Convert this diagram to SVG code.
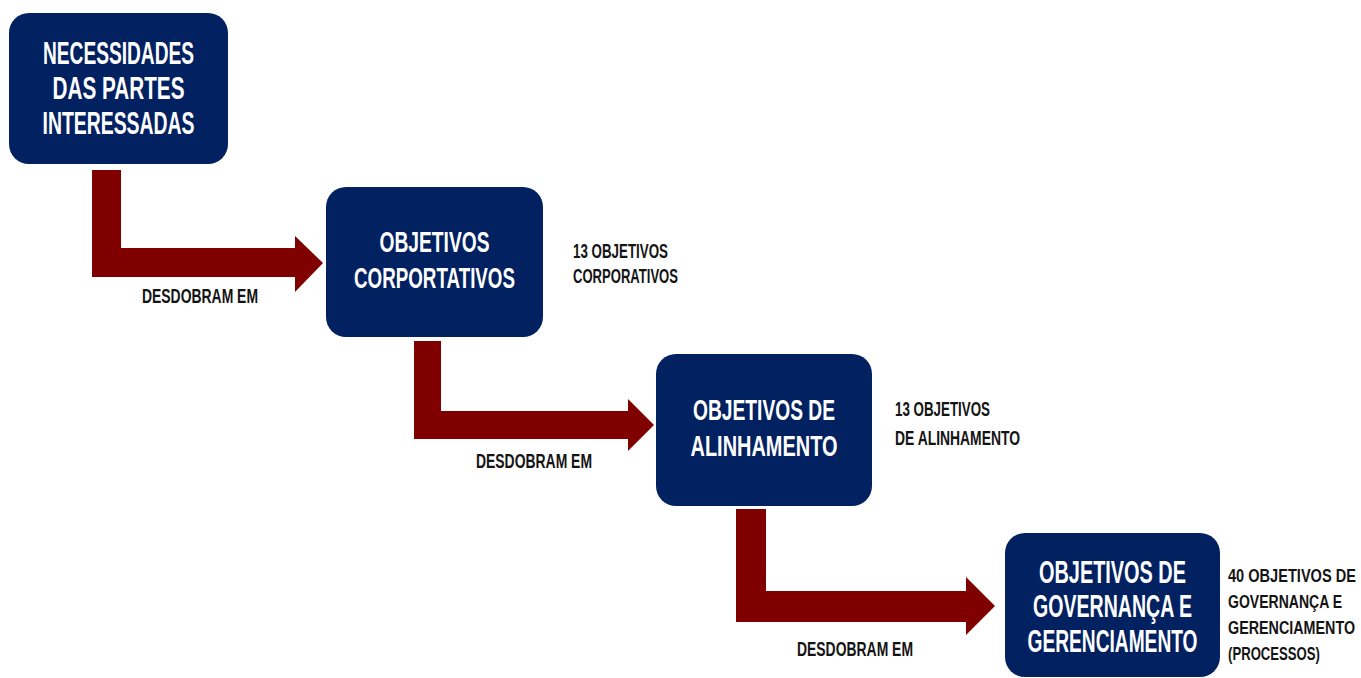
<svg xmlns="http://www.w3.org/2000/svg" width="1361" height="678" viewBox="0 0 1361 678">
<style>
text{font-family:"Liberation Sans",Arial,sans-serif;font-weight:bold}
.box{fill:#022160}
.bt{fill:#ffffff;text-anchor:middle}
.st{fill:#141414}
.lb{fill:#141414;font-size:20px}
.arr{fill:#800000}
</style>
<rect width="1361" height="678" fill="#ffffff"/>
<g id="connectors">
<path class="arr" d="M92,170 L121,170 L121,248 L295,248 L295,236 L323,263 L295,292 L295,277 L92,277 Z"/>
<path class="arr" d="M414,341 L441,341 L441,411 L628,411 L628,399 L654,425 L628,451 L628,439 L414,439 Z"/>
<path class="arr" d="M736,509 L766,509 L766,591 L966,591 L966,577 L995,606 L966,635 L966,622 L736,622 Z"/>
<text class="lb" transform="translate(142,303) scale(0.6,1)" textLength="193.3" lengthAdjust="spacingAndGlyphs">DESDOBRAM EM</text>
<text class="lb" transform="translate(476,468) scale(0.6,1)" textLength="193.3" lengthAdjust="spacingAndGlyphs">DESDOBRAM EM</text>
<text class="lb" transform="translate(797,656) scale(0.6,1)" textLength="193.3" lengthAdjust="spacingAndGlyphs">DESDOBRAM EM</text>
</g>
<g id="node1">
<rect class="box" x="9" y="13" width="219" height="151" rx="20"/>
<text class="bt" font-size="31" transform="translate(118.5,64) scale(0.6,1)" textLength="251.7" lengthAdjust="spacingAndGlyphs">NECESSIDADES</text>
<text class="bt" font-size="31" transform="translate(118.5,99) scale(0.6,1)" textLength="220" lengthAdjust="spacingAndGlyphs">DAS PARTES</text>
<text class="bt" font-size="31" transform="translate(118.5,134) scale(0.6,1)" textLength="253.3" lengthAdjust="spacingAndGlyphs">INTERESSADAS</text>
</g>
<g id="node2">
<rect class="box" x="326" y="187" width="217" height="150" rx="20"/>
<text class="bt" font-size="30" transform="translate(434.5,252) scale(0.6,1)" textLength="183.3" lengthAdjust="spacingAndGlyphs">OBJETIVOS</text>
<text class="bt" font-size="30" transform="translate(434.5,288) scale(0.6,1)" textLength="268.3" lengthAdjust="spacingAndGlyphs">CORPORTATIVOS</text>
<text class="st" font-size="21" transform="translate(573,258) scale(0.6,1)" textLength="158.3" lengthAdjust="spacingAndGlyphs">13 OBJETIVOS</text>
<text class="st" font-size="21" transform="translate(573,283) scale(0.6,1)" textLength="175" lengthAdjust="spacingAndGlyphs">CORPORATIVOS</text>
</g>
<g id="node3">
<rect class="box" x="656" y="354" width="216" height="152" rx="20"/>
<text class="bt" font-size="30" transform="translate(764,420) scale(0.6,1)" textLength="236.7" lengthAdjust="spacingAndGlyphs">OBJETIVOS DE</text>
<text class="bt" font-size="30" transform="translate(764,456) scale(0.6,1)" textLength="245" lengthAdjust="spacingAndGlyphs">ALINHAMENTO</text>
<text class="st" font-size="20" transform="translate(895,416) scale(0.6,1)" textLength="158.3" lengthAdjust="spacingAndGlyphs">13 OBJETIVOS</text>
<text class="st" font-size="20" transform="translate(895,445) scale(0.6,1)" textLength="208.3" lengthAdjust="spacingAndGlyphs">DE ALINHAMENTO</text>
</g>
<g id="node4">
<rect class="box" x="1005" y="533" width="215" height="144" rx="20"/>
<text class="bt" font-size="31" transform="translate(1112.5,583) scale(0.6,1)" textLength="245" lengthAdjust="spacingAndGlyphs">OBJETIVOS DE</text>
<text class="bt" font-size="31" transform="translate(1112.5,617) scale(0.6,1)" textLength="265" lengthAdjust="spacingAndGlyphs">GOVERNANÇA E</text>
<text class="bt" font-size="31" transform="translate(1112.5,652) scale(0.6,1)" textLength="283.3" lengthAdjust="spacingAndGlyphs">GERENCIAMENTO</text>
<text class="st" font-size="19" transform="translate(1228,582) scale(0.6,1)" textLength="213.3" lengthAdjust="spacingAndGlyphs">40 OBJETIVOS DE</text>
<text class="st" font-size="19" transform="translate(1228,608) scale(0.6,1)" textLength="190" lengthAdjust="spacingAndGlyphs">GOVERNANÇA E</text>
<text class="st" font-size="19" transform="translate(1228,634) scale(0.6,1)" textLength="211.7" lengthAdjust="spacingAndGlyphs">GERENCIAMENTO</text>
<text class="st" font-size="19" transform="translate(1228,660) scale(0.6,1)" textLength="153.3" lengthAdjust="spacingAndGlyphs">(PROCESSOS)</text>
</g>
</svg>
